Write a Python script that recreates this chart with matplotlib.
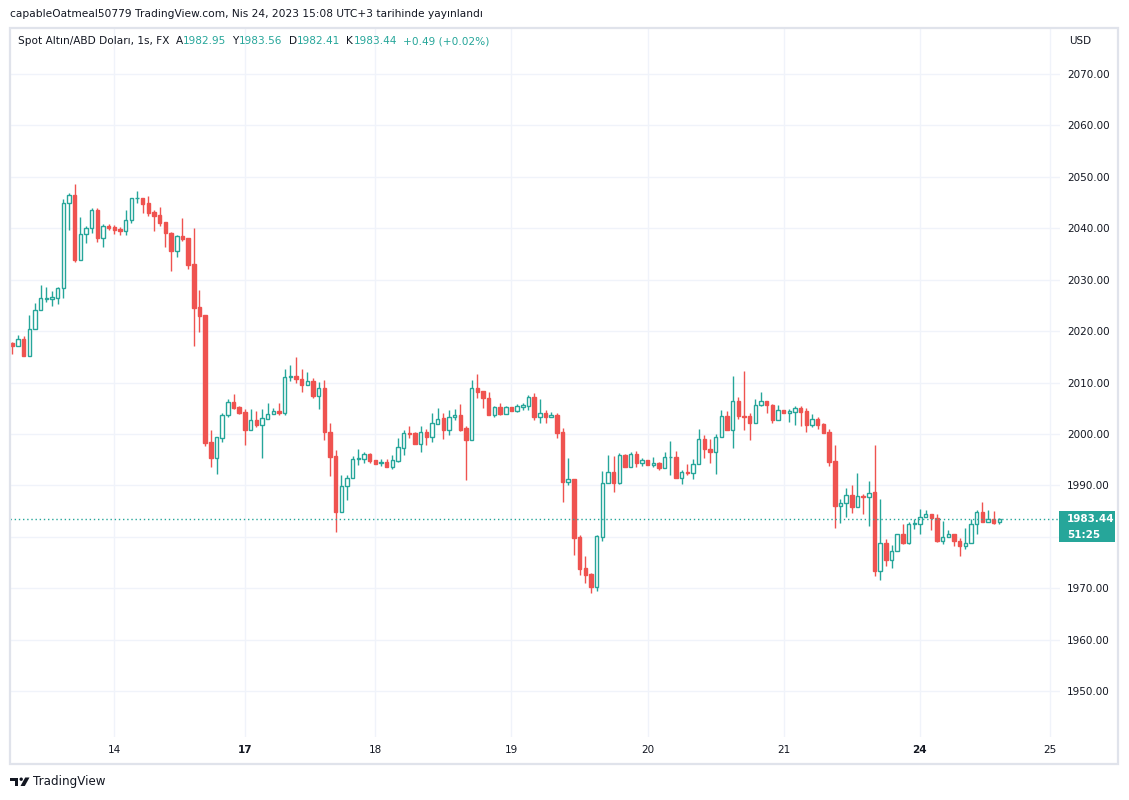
import matplotlib
matplotlib.use("Agg")
import matplotlib.pyplot as plt
from matplotlib.patches import Rectangle, Circle, Polygon
import numpy as np

# --- 1h candles, Spot Gold / USD ---
opens = [
  2017.7, 2017.2, 2018.5, 2015.2, 2020.35, 2024.2, 2026.3, 2026.3, 2026.5, 2028.3,
  2044.85, 2046.5, 2033.8, 2038.8, 2040.0, 2043.5, 2038.2, 2040.4, 2040.25, 2039.9,
  2039.5, 2041.7, 2045.8, 2045.9, 2044.9, 2043.2, 2042.6, 2041.2, 2039.1, 2035.5,
  2038.5, 2038.1, 2033.05, 2024.6, 2023.1, 1998.45, 1995.4, 1999.3, 2003.6, 2006.2,
  2005.25, 2004.3, 2000.85, 2002.7, 2001.8, 2003.0, 2003.8, 2004.5, 2004.1, 2011.05,
  2011.3, 2010.7, 2009.6, 2010.3, 2007.45, 2008.95, 2000.4, 1995.7, 1984.9, 1989.8,
  1991.4, 1995.1, 1995.2, 1996.1, 1994.9, 1994.3, 1994.55, 1993.65, 1994.8, 1997.35,
  2000.25, 2000.25, 1998.1, 2000.4, 1999.5, 2002.0, 2003.1, 2000.85, 2003.2, 2003.7,
  2001.15, 1998.9, 2008.95, 2008.35, 2007.0, 2003.75, 2005.25, 2003.95, 2005.25, 2004.5,
  2005.3, 2005.5, 2007.2, 2003.2, 2004.1, 2003.2, 2003.6, 2000.4, 1990.7, 1991.25,
  1980.0, 1973.95, 1972.8, 1970.3, 1980.0, 1990.4, 1992.55, 1990.4, 1995.85, 1993.65,
  1996.05, 1994.3, 1995.0, 1994.05, 1994.3, 1993.45, 1995.5, 1995.45, 1991.5, 1992.65,
  1992.5, 1994.1, 1998.95, 1997.0, 1996.4, 1999.35, 2003.4, 2000.85, 2006.5, 2003.4,
  2003.4, 2002.2, 2005.6, 2006.5, 2005.6, 2002.8, 2004.6, 2004.15, 2004.35, 2005.0,
  2004.5, 2001.8, 2002.85, 2001.95, 2000.4, 1994.8, 1986.05, 1986.5, 1988.05, 1985.85,
  1987.9, 1987.7, 1988.7, 1973.4, 1978.75, 1975.55, 1977.2, 1980.5, 1978.75, 1982.5,
  1982.4, 1983.8, 1984.4, 1983.6, 1979.25, 1980.0, 1980.5, 1979.25, 1978.3, 1978.75,
  1982.45, 1984.85, 1982.8, 1983.4, 1982.95,
]
highs = [
  2017.8, 2019.25, 2019.0, 2023.1, 2025.4, 2028.9, 2028.6, 2027.8, 2028.6, 2045.7,
  2046.8, 2048.6, 2042.2, 2040.4, 2043.9, 2043.9, 2040.9, 2040.9, 2040.6, 2040.2,
  2043.55, 2045.8, 2047.2, 2045.9, 2046.3, 2043.55, 2044.1, 2041.2, 2039.3, 2038.7,
  2042.0, 2038.1, 2040.05, 2028.0, 2023.1, 2000.8, 1999.4, 2004.15, 2006.8, 2007.8,
  2005.4, 2004.9, 2004.9, 2004.5, 2004.9, 2006.0, 2005.05, 2006.0, 2012.6, 2013.4,
  2015.0, 2012.6, 2012.05, 2010.9, 2010.1, 2010.5, 2002.2, 1996.95, 1992.0, 1992.0,
  1995.7, 1997.1, 1996.5, 1996.3, 1994.9, 1995.1, 1995.1, 1995.85, 1999.15, 2000.7,
  2001.5, 2000.45, 2001.55, 2000.9, 2004.1, 2005.05, 2004.1, 2004.65, 2004.85, 2005.9,
  2001.55, 2010.5, 2011.65, 2008.35, 2008.2, 2005.5, 2006.0, 2005.4, 2005.25, 2005.9,
  2006.1, 2007.5, 2007.95, 2006.8, 2004.6, 2004.3, 2004.1, 2001.15, 1995.3, 1991.25,
  1980.4, 1976.3, 1973.0, 1980.35, 1992.7, 1995.9, 1995.7, 1996.3, 1996.05, 1996.5,
  1996.7, 1995.3, 1995.0, 1995.45, 1994.6, 1996.55, 1998.7, 1996.75, 1993.0, 1994.2,
  1995.1, 2000.9, 1999.7, 1999.0, 1999.9, 2004.6, 2004.45, 2011.3, 2007.2, 2012.25,
  2004.0, 2006.8, 2008.1, 2006.5, 2005.8, 2005.6, 2004.6, 2004.8, 2005.4, 2005.4,
  2005.0, 2003.9, 2003.2, 2002.1, 2000.9, 1997.8, 1987.3, 1989.4, 1990.0, 1992.35,
  1988.25, 1990.8, 1997.85, 1987.35, 1979.6, 1978.35, 1980.5, 1982.45, 1982.9, 1983.4,
  1985.35, 1985.2, 1984.4, 1984.45, 1983.1, 1981.35, 1980.5, 1979.7, 1981.65, 1983.4,
  1985.2, 1986.8, 1985.2, 1985.0, 1983.56,
]
lows = [
  2015.6, 2017.2, 2015.2, 2015.2, 2020.35, 2024.2, 2025.7, 2024.95, 2025.35, 2026.5,
  2039.7, 2033.5, 2033.8, 2037.2, 2039.1, 2037.4, 2036.4, 2039.7, 2038.9, 2038.6,
  2038.6, 2041.1, 2044.85, 2042.9, 2042.3, 2039.5, 2040.5, 2036.4, 2031.75, 2034.5,
  2037.6, 2032.1, 2017.2, 2019.9, 1997.7, 1993.65, 1992.3, 1998.5, 2003.2, 2004.9,
  2003.9, 1997.9, 2000.85, 2001.4, 1995.4, 2003.0, 2003.8, 2003.7, 2003.7, 2010.3,
  2010.0, 2008.2, 2009.6, 2006.9, 2004.9, 1998.9, 1991.9, 1981.0, 1984.9, 1987.2,
  1991.4, 1994.05, 1994.4, 1994.4, 1994.2, 1993.8, 1993.65, 1993.25, 1994.6, 1996.0,
  1999.3, 1998.1, 1996.4, 1997.9, 1998.5, 2001.9, 1999.1, 1999.7, 2002.8, 2000.6,
  1991.1, 1998.9, 2007.05, 2005.1, 2003.75, 2003.2, 2003.75, 2003.95, 2004.5, 2004.3,
  2004.7, 2004.7, 2002.8, 2002.1, 2002.1, 2003.2, 1999.3, 1986.85, 1990.15, 1976.5,
  1972.65, 1971.1, 1969.15, 1969.5, 1979.25, 1990.4, 1988.8, 1990.35, 1993.65, 1993.65,
  1993.65, 1993.85, 1994.05, 1993.65, 1993.05, 1993.45, 1992.1, 1991.5, 1990.35, 1991.95,
  1991.3, 1994.1, 1995.4, 1994.4, 1992.3, 1999.35, 2000.85, 1997.35, 2002.85, 2000.85,
  1998.9, 2002.2, 2005.4, 2004.15, 2002.2, 2002.8, 2004.15, 2002.4, 2001.8, 2001.6,
  2000.45, 2001.4, 2001.05, 2000.25, 1993.85, 1981.8, 1982.75, 1983.9, 1984.7, 1985.85,
  1984.5, 1982.0, 1972.45, 1971.5, 1974.4, 1974.0, 1977.2, 1978.55, 1978.55, 1981.5,
  1980.5, 1983.8, 1981.3, 1979.0, 1978.55, 1980.0, 1978.15, 1976.35, 1977.7, 1978.75,
  1980.6, 1982.8, 1982.8, 1982.5, 1982.41,
]
closes = [
  2017.2, 2018.5, 2015.2, 2020.35, 2024.2, 2026.4, 2026.4, 2026.6, 2028.4, 2044.85,
  2046.5, 2033.8, 2038.8, 2040.0, 2043.5, 2038.2, 2040.4, 2040.0, 2039.7, 2039.5,
  2041.7, 2045.8, 2045.9, 2044.8, 2043.0, 2042.45, 2041.1, 2039.0, 2035.5, 2038.5,
  2038.0, 2032.9, 2024.4, 2023.0, 1998.3, 1995.4, 1999.4, 2003.7, 2006.2, 2005.1,
  2004.1, 2000.85, 2002.7, 2001.8, 2003.05, 2003.8, 2004.5, 2004.1, 2011.1, 2011.3,
  2010.6, 2009.6, 2010.25, 2007.45, 2008.95, 2000.3, 1995.6, 1984.9, 1989.9, 1991.45,
  1995.1, 1995.35, 1996.1, 1994.8, 1994.2, 1994.5, 1993.65, 1994.9, 1997.4, 2000.1,
  2000.05, 1998.1, 2000.4, 1999.5, 2002.1, 2003.0, 2000.85, 2003.2, 2003.6, 2000.85,
  1998.9, 2008.95, 2008.2, 2006.9, 2003.75, 2005.25, 2003.95, 2005.25, 2004.5, 2005.4,
  2005.7, 2007.2, 2003.2, 2004.1, 2003.2, 2003.6, 2000.25, 1990.7, 1991.2, 1979.85,
  1973.8, 1972.65, 1970.3, 1980.15, 1990.4, 1992.55, 1990.5, 1995.85, 1993.65, 1996.05,
  1994.3, 1995.0, 1994.05, 1994.3, 1993.45, 1995.45, 1995.6, 1991.5, 1992.55, 1992.5,
  1994.1, 1998.95, 1997.0, 1996.4, 1999.35, 2003.4, 2000.85, 2006.5, 2003.4, 2003.3,
  2002.2, 2005.6, 2006.5, 2005.55, 2002.8, 2004.6, 2004.15, 2004.45, 2005.0, 2004.35,
  2001.8, 2002.85, 2001.8, 2000.25, 1994.6, 1986.05, 1986.5, 1988.05, 1985.85, 1987.9,
  1987.7, 1988.6, 1973.4, 1978.75, 1975.55, 1977.2, 1980.5, 1978.75, 1982.5, 1982.6,
  1983.8, 1984.4, 1983.6, 1979.25, 1980.0, 1980.5, 1979.25, 1978.3, 1978.75, 1982.45,
  1984.85, 1982.8, 1983.4, 1982.7, 1983.44,
]

# bar index of each day boundary and its label
day_ticks = [18, 41, 64, 88, 112, 136, 160, 183]
day_labels = ["14", "17", "18", "19", "20", "21", "24", "25"]
bold_days = ["17", "24"]
price_ticks = list(range(1950, 2071, 10))
hidden_price = 1980  # covered by the last-price badge

last_price = 1983.44
countdown = "51:25"
header_ohlc = [("A", "1982.95"), ("Y", "1983.56"), ("D", "1982.41"), ("K", "1983.44")]
header_change = "+0.49 (+0.02%)"

UP = "#26a69a"
DOWN = "#ef5350"
TEXT = "#131722"
GRID = "#f0f3fa"
BORDER = "#e0e3eb"

W, H = 1129, 800
plt.rcParams["font.family"] = ["DejaVu Sans"]
fig = plt.figure(figsize=(W / 100, H / 100), dpi=100)
fig.patch.set_facecolor("white")


def fx(px):
  return px / W


def fy(py):
  return 1 - py / H


ax = fig.add_axes([fx(10), fy(737), fx(1060) - fx(10), fy(28) - fy(737)])
ax.set_facecolor("white")

o = np.array(opens)
h = np.array(highs)
l = np.array(lows)
c = np.array(closes)
idx = np.arange(len(o))
is_up = c >= o
cols = np.where(is_up, UP, DOWN)

# wicks first, bodies on top (hollow up candles, filled down candles)
ax.vlines(idx, l, h, colors=cols, linewidth=1.0, zorder=2)
body_bottom = np.minimum(o, c)
body_height = np.maximum(np.abs(c - o), 0.06)
ax.bar(idx, body_height, width=0.6, bottom=body_bottom,
       color=np.where(is_up, "white", DOWN), edgecolor=cols, linewidth=1.0, zorder=3)

ax.axhline(last_price, color=UP, linestyle=(0, (1, 2)), linewidth=1.0, zorder=4)

ax.set_xlim(-0.405, 184.7)
ax.set_ylim(1941.06, 2078.95)
ax.set_xticks(day_ticks)
ax.set_xticklabels(day_labels)
for lab in ax.get_xticklabels():
  if lab.get_text() in bold_days:
    lab.set_fontweight("bold")
ax.set_yticks(price_ticks)
ax.set_yticklabels(["" if p == hidden_price else f"{p:.2f}" for p in price_ticks])
ax.yaxis.tick_right()
ax.tick_params(axis="y", length=0, pad=5, labelsize=7.5, labelcolor=TEXT)
ax.tick_params(axis="x", length=0, pad=5.5, labelsize=7.5, labelcolor=TEXT)
ax.grid(True, color=GRID, linewidth=1.0, zorder=0)
ax.set_axisbelow(True)
for s in ax.spines.values():
  s.set_visible(False)

# overlay in pixel coordinates for frame, header, badges
ov = fig.add_axes([0, 0, 1, 1], zorder=5)
ov.set_xlim(0, W)
ov.set_ylim(H, 0)
ov.axis("off")
ov.patch.set_alpha(0)

ov.add_patch(Rectangle((10, 28), 1108, 736, fill=False, edgecolor=BORDER, linewidth=1.6))

ov.text(10, 14, "capableOatmeal50779 TradingView.com, Nis 24, 2023 15:08 UTC+3 tarihinde yayınlandı",
        fontsize=7.65, color=TEXT, va="center", ha="left")

renderer = fig.canvas.get_renderer()
pieces = [("Spot Altın/ABD Doları, 1s, FX", TEXT, 6)]
for letter, value in header_ohlc:
  pieces.append((letter, TEXT, 0.5))
  pieces.append((value, UP, 6))
pieces.append((header_change, UP, 0))
x = 18
for txt, col, gap in pieces:
  t = ov.text(x, 41, txt, fontsize=7.6, color=col, va="center", ha="left")
  bb = t.get_window_extent(renderer)
  x += bb.width + gap

ov.text(1069, 41, "USD", fontsize=7.5, color=TEXT, va="center", ha="left")

# last price badge
ov.add_patch(Rectangle((1059, 511), 56, 31, facecolor=UP, edgecolor="none"))
ov.text(1067, 518.5, f"{last_price:.2f}", fontsize=7.5, color="white", fontweight="bold",
        va="center", ha="left")
ov.text(1067, 535, countdown, fontsize=7.5, color="white", fontweight="bold",
        va="center", ha="left")

# TradingView logo
ov.add_patch(Rectangle((10, 777.5), 8, 3.2, facecolor=TEXT, edgecolor="none"))
ov.add_patch(Rectangle((14.6, 777.5), 3.4, 8.5, facecolor=TEXT, edgecolor="none"))
ov.add_patch(Circle((21.2, 779.2), 1.7, facecolor=TEXT, edgecolor="none"))
ov.add_patch(Polygon([(20.5, 786), (25.2, 777.5), (29.5, 777.5), (24.8, 786)],
                     closed=True, facecolor=TEXT, edgecolor="none"))
ov.text(33, 782, "TradingView", fontsize=8.6, color=TEXT, va="center", ha="left")

fig.savefig("out.png", dpi=100, facecolor="white")
